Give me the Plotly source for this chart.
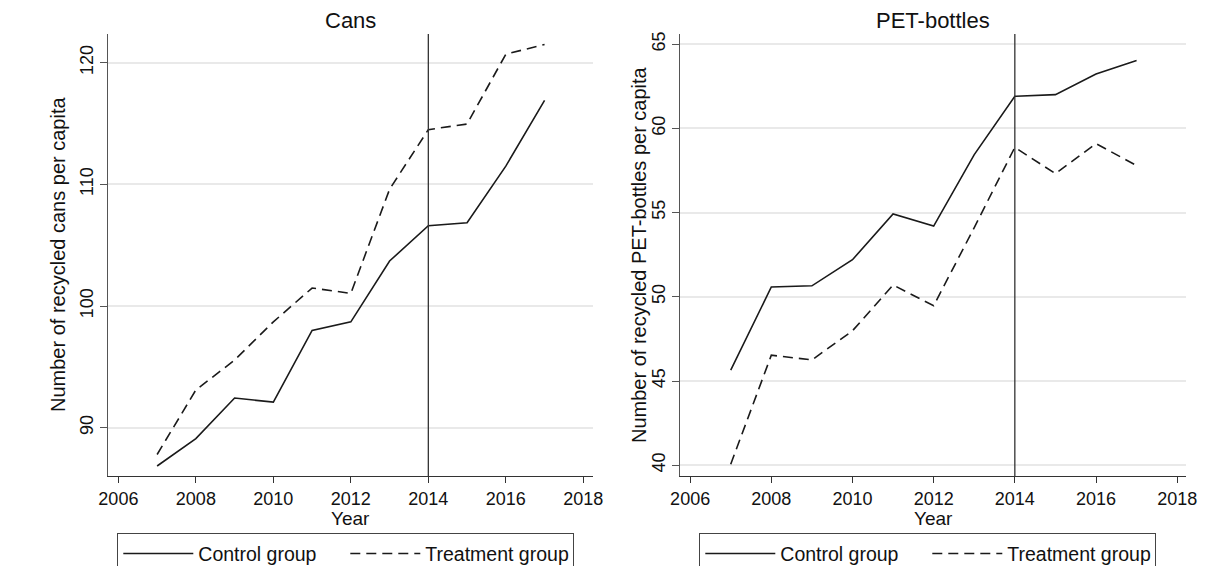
import plotly.graph_objects as go

# Yearly recycling per capita, control vs. treatment municipalities
years = [2007, 2008, 2009, 2010, 2011, 2012, 2013, 2014, 2015, 2016, 2017]

cans_control = [86.85, 89.1, 92.44, 92.1, 98.0, 98.7, 103.7, 106.6, 106.85, 111.5, 116.9]
cans_treatment = [87.8, 93.1, 95.56, 98.7, 101.48, 101.04, 109.6, 114.5, 114.96, 120.7, 121.5]

pet_control = [45.64, 50.58, 50.65, 52.2, 54.92, 54.2, 58.44, 61.9, 62.0, 63.23, 64.03]
pet_treatment = [40.06, 46.53, 46.25, 47.98, 50.7, 49.47, 54.11, 58.87, 57.31, 59.09, 57.79]

policy_year = 2014

x_ticks = [2006, 2008, 2010, 2012, 2014, 2016, 2018]
cans_ticks = [90, 100, 110, 120]
pet_ticks = [40, 45, 50, 55, 60, 65]

panel_titles = ["Cans", "PET-bottles"]
y_titles = ["Number of recycled cans per capita", "Number of recycled PET-bottles per capita"]
x_title = "Year"
group_names = ["Control group", "Treatment group"]

W, H = 1206, 566
FONT = "Liberation Sans, Arial, sans-serif"
INK = "#1a1a1a"
TXT = "#111111"
DASH = "10px,6px"

fig = go.Figure()

panels = [
    dict(xa="x", ya="y", legend="legend", ctrl=cans_control, trt=cans_treatment),
    dict(xa="x2", ya="y2", legend="legend2", ctrl=pet_control, trt=pet_treatment),
]

for p in panels:
    fig.add_trace(go.Scatter(
        x=years, y=p["ctrl"], mode="lines", name=group_names[0],
        line=dict(color=INK, width=1.6), xaxis=p["xa"], yaxis=p["ya"],
        legend=p["legend"],
    ))
    fig.add_trace(go.Scatter(
        x=years, y=p["trt"], mode="lines", name=group_names[1],
        line=dict(color=INK, width=1.6, dash=DASH), xaxis=p["xa"], yaxis=p["ya"],
        legend=p["legend"],
    ))
    # vertical reference line at the policy year
    fig.add_shape(type="line", xref=p["xa"], yref=f"{p['ya']} domain",
                  x0=policy_year, x1=policy_year, y0=0, y1=1,
                  line=dict(color="#333333", width=1.3), layer="above")

x_common = dict(
    tickvals=x_ticks, ticks="outside", ticklen=6, tickcolor="#333333",
    showgrid=False, zeroline=False, showline=True, linecolor="#333333", linewidth=1.3,
    tickfont=dict(family=FONT, size=18, color=TXT),
    automargin=False,
)
y_common = dict(
    ticks="outside", ticklen=7, tickcolor="#555555", tickangle=-90,
    showgrid=True, gridcolor="#e9e9e9", gridwidth=1.5, zeroline=False,
    showline=True, linecolor="#555555", linewidth=1.3,
    tickfont=dict(family=FONT, size=18, color=TXT),
    automargin=False,
)

y_dom = [90 / H, 532 / H]
x_doms = [[108.3 / W, 593 / W], [680.4 / W, 1185.7 / W]]

legend_common = dict(
    orientation="h", y=(H - 533) / H, xanchor="left", yanchor="top",
    bordercolor="#444444", borderwidth=1.3, bgcolor="white",
    font=dict(family=FONT, size=19.5, color=TXT),
    entrywidth=142, entrywidthmode="pixels", itemwidth=70,
    traceorder="normal",
)

fig.update_layout(
    width=W, height=H,
    margin=dict(l=0, r=0, t=0, b=0, autoexpand=False),
    paper_bgcolor="white", plot_bgcolor="white",
    font=dict(family=FONT, color=TXT),
    xaxis=dict(domain=x_doms[0], range=[2005.74, 2018.25], anchor="y", **x_common),
    yaxis=dict(domain=y_dom, range=[86.03, 122.36], tickvals=cans_ticks, anchor="x", **y_common),
    xaxis2=dict(domain=x_doms[1], range=[2005.76, 2018.21], anchor="y2", **x_common),
    yaxis2=dict(domain=y_dom, range=[39.36, 65.6], tickvals=pet_ticks, anchor="x2", **y_common),
    legend=dict(x=117 / W, **legend_common),
    legend2=dict(x=699 / W, **legend_common),
    showlegend=True,
)

# panel headings and axis titles
y_title_x = [58 / W, 639 / W]
for i, dom in enumerate(x_doms):
    mid = (dom[0] + dom[1]) / 2
    fig.add_annotation(text=panel_titles[i], xref="paper", yref="paper",
                       x=mid, y=(H - 20) / H, xanchor="center", yanchor="middle",
                       showarrow=False, font=dict(family=FONT, size=22, color=TXT))
    fig.add_annotation(text=x_title, xref="paper", yref="paper",
                       x=mid, y=(H - 518) / H, xanchor="center", yanchor="middle",
                       showarrow=False, font=dict(family=FONT, size=19, color=TXT))
    fig.add_annotation(text=y_titles[i], xref="paper", yref="paper", textangle=-90,
                       x=y_title_x[i], y=(y_dom[0] + y_dom[1]) / 2,
                       xanchor="center", yanchor="middle",
                       showarrow=False, font=dict(family=FONT, size=20, color=TXT))

fig.write_html("out.html")
